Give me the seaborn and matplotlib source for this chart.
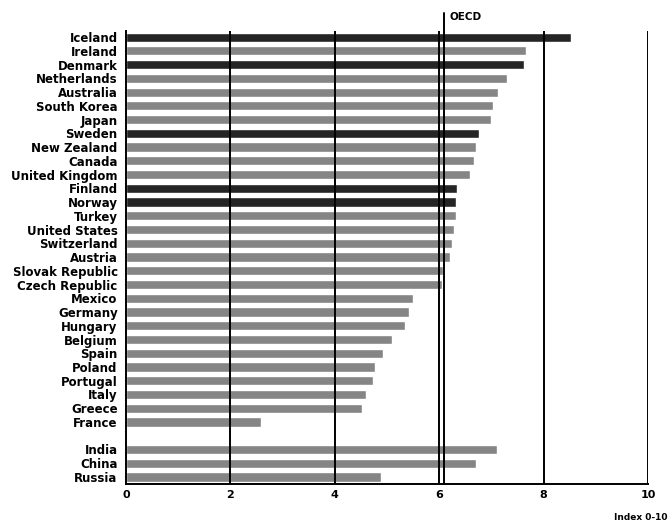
import matplotlib
matplotlib.use("Agg")
import matplotlib.pyplot as plt
import seaborn as sns
import pandas as pd
import numpy as np

countries = ["Iceland", "Ireland", "Denmark", "Netherlands", "Australia", "South Korea",
             "Japan", "Sweden", "New Zealand", "Canada", "United Kingdom", "Finland",
             "Norway", "Turkey", "United States", "Switzerland", "Austria",
             "Slovak Republic", "Czech Republic", "Mexico", "Germany", "Hungary",
             "Belgium", "Spain", "Poland", "Portugal", "Italy", "Greece", "France",
             "", "India", "China", "Russia"]
values = [8.53, 7.66, 7.62, 7.29, 7.13, 7.04,
          7.00, 6.76, 6.71, 6.67, 6.59, 6.34,
          6.33, 6.32, 6.29, 6.25, 6.21,
          6.08, 6.05, 5.50, 5.42, 5.34,
          5.10, 4.93, 4.77, 4.73, 4.60, 4.52, 2.58,
          0.0, 7.11, 6.70, 4.89]
nordic = ["Iceland", "Denmark", "Sweden", "Finland", "Norway"]
oecd_avg = 6.1
xticks = [0, 2, 4, 6, 8, 10]

sns.set_theme(style="white")
plt.rcParams['font.family'] = ['DejaVu Sans']
plt.rcParams['text.color'] = 'black'
plt.rcParams['xtick.color'] = 'black'
plt.rcParams['ytick.color'] = 'black'

df = pd.DataFrame({"country": countries, "value": values})
df["group"] = ["Nordic" if c in nordic else "Other" for c in countries]

fig = plt.figure(figsize=(6.69, 5.27), dpi=100)
ax = fig.add_axes([126/669, 1-484/527, (648-126)/669, (484-31)/527])

dark = "#252525"
grey = "#858585"
sns.barplot(data=df, x="value", y="country", hue="group", order=countries,
            palette={"Nordic": dark, "Other": grey}, orient="h", width=0.66,
            dodge=False, legend=False, ax=ax, saturation=1)

ax.set_xlim(0, 10)
n = len(countries)
ax.set_ylim(n - 1 + 0.51, -0.44)

for x in [2, 4, 6, 8, 10]:
    ax.axvline(x, color="black", lw=1.4, zorder=5)
ax.plot([oecd_avg, oecd_avg], [n - 1 + 0.51, -1.75], color="black", lw=1.4,
        zorder=6, clip_on=False)
ax.text(oecd_avg + 0.1, -1.45, "OECD", fontsize=7.5, fontweight="bold",
        va="center", ha="left", family="DejaVu Sans Condensed", color="black")

for s in ["top", "right"]:
    ax.spines[s].set_visible(False)
for s in ["left", "bottom"]:
    ax.spines[s].set_color("black")
    ax.spines[s].set_linewidth(1.4)

ax.set_xticks(xticks)
ax.set_xticklabels([str(t) for t in xticks], fontsize=8, fontweight="bold", color="black")
ax.tick_params(axis="x", length=0, pad=4)
ax.tick_params(axis="y", length=0, pad=6)
ax.set_xlabel("")
ax.set_ylabel("")
for lab in ax.get_yticklabels():
    lab.set_fontsize(8.5)
    lab.set_family("DejaVu Sans Condensed")
    lab.set_fontweight("bold")
    lab.set_color("black")

fig.text(667/669, 1-518/527, "Index 0-10", fontsize=6.5, fontweight="bold",
         ha="right", va="center", family="DejaVu Sans Condensed", color="black")

fig.savefig("out.png", dpi=100)
